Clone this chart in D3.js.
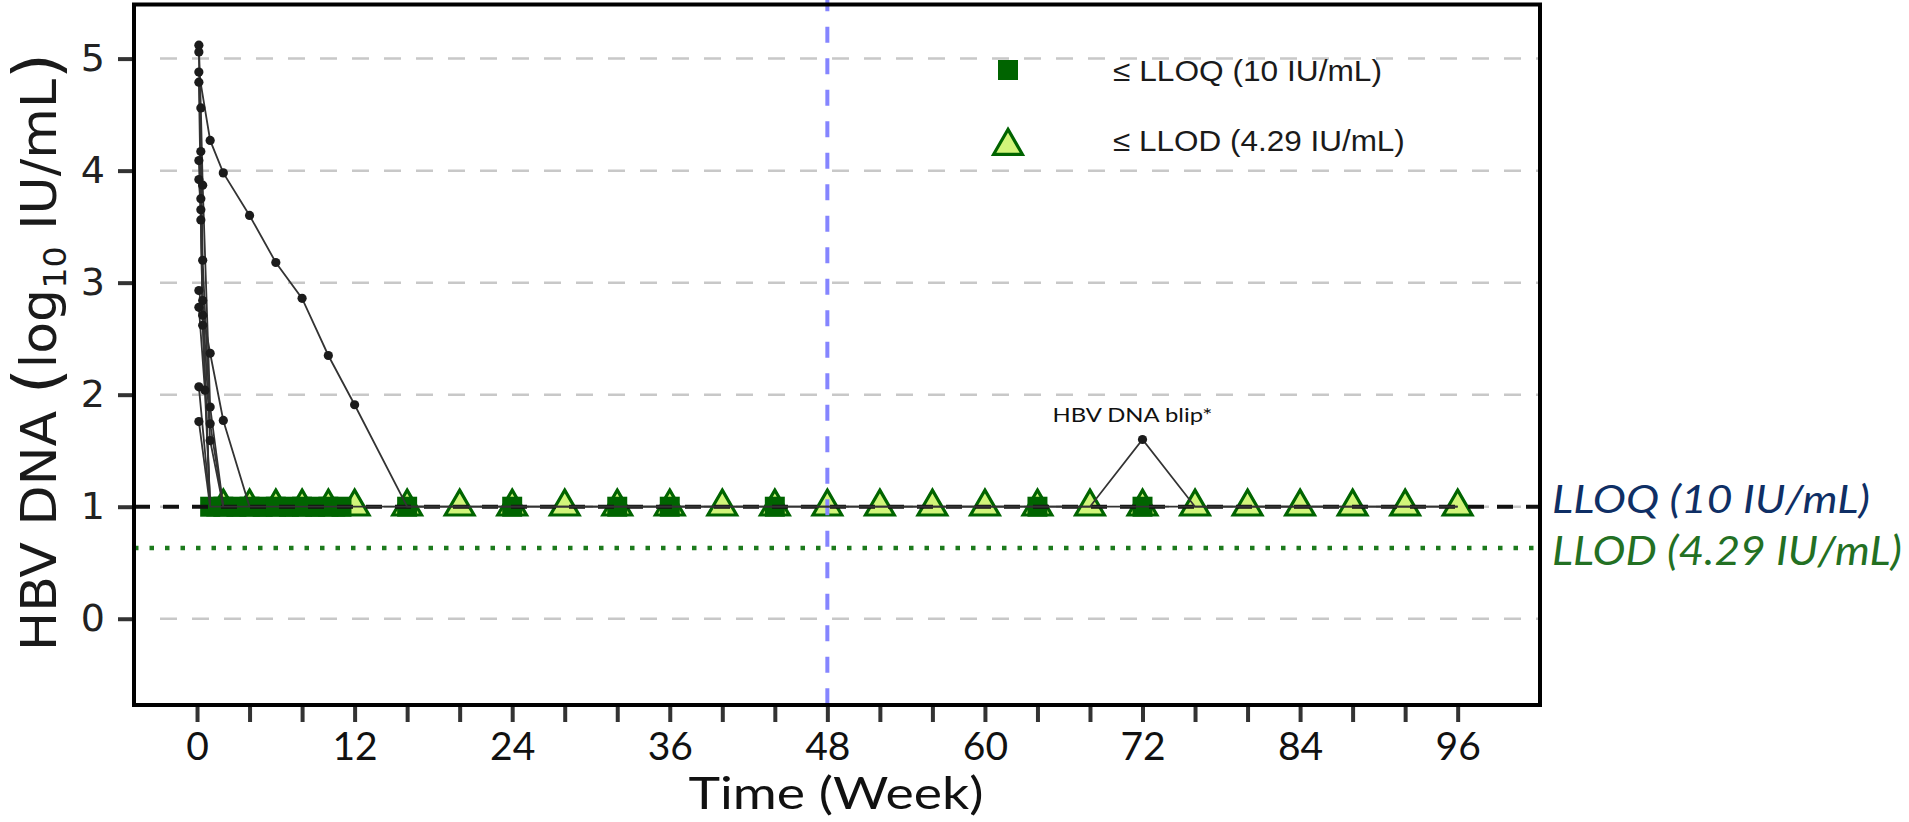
<!DOCTYPE html>
<html>
<head>
<meta charset="utf-8">
<title>HBV DNA over time</title>
<style>
  body { margin: 0; background: #fff; }
  svg { display: block; }
  .grid line { stroke: #c8c8c8; stroke-width: 2.5px; stroke-dasharray: 17,15; }
  .pt-line { fill: none; stroke: #333; stroke-width: 1.8px; }
  .axis path.domain { display: none; }
  .axis line { stroke: #333; stroke-width: 4px; }
</style>
</head>
<body>
<script src="https://d3js.org/d3.v7.min.js"></script>
<script>

var W = 1909, H = 822;

// axis values
var yTicks = [0, 1, 2, 3, 4, 5];
var xTicks = [0, 4, 8, 12, 16, 20, 24, 28, 32, 36, 40, 44, 48, 52, 56, 60, 64, 68, 72, 76, 80, 84, 88, 92, 96];
var xLabelWeeks = [0, 12, 24, 36, 48, 60, 72, 84, 96];

var LLOQ = 1;          // log10(10)
var LLOD = 0.632;      // log10(4.29)
var switchWeek = 48;

// each patient: [week, log10 HBV DNA]; values at LLOQ are plotted on the LLOQ line
var patientA = [[0.14,4.88],[1,4.27],[2,3.98],[4,3.60],[6,3.18],[8,2.86],[10,2.35],[12,1.91],[16,1],[20,1],[24,1],[28,1],[32,1],[36,1],[40,1],[44,1],[48,1],[52,1],[56,1],[60,1],[64,1],[68,1],[72,1],[76,1],[80,1],[84,1],[88,1],[92,1],[96,1]];
var patientB = [[0.14,2.93],[1,2.37],[2,1.77],[4,1]];
var patientC = [[0.14,5.12],[0.29,4.56],[0.43,3.87],[1,1.89],[2,1]];
var patientD = [[0.14,5.06],[0.29,4.17],[0.43,3.20],[1,1.74],[2,1]];
var patientE = [[0.14,4.79],[0.29,3.75],[0.43,2.84],[1,1.59],[2,1]];
var patientF = [[0.14,4.09],[0.29,3.56],[0.43,2.71],[1,1]];
var patientG = [[0.14,3.92],[0.29,3.65],[0.43,2.62],[1,1],[2,1],[4,1],[8,1],[12,1],[16,1],[24,1],[32,1],[40,1],[48,1],[56,1],[64,1],[68,1],[72,1.60],[76,1],[84,1],[96,1]];
var patientH = [[0.14,2.78],[0.6,2.04],[1,1]];
var patientI = [[0.14,2.07],[1,1]];
var patientJ = [[0.14,1.76],[1,1]];
var patients = [patientA, patientB, patientC, patientD, patientE, patientF, patientG, patientH, patientI, patientJ];

// weeks with a result <= LLOQ (square) and <= LLOD (triangle)
var lloqWeeks = [1, 2, 3, 4, 5, 6, 7, 8, 9, 10, 11, 16, 24, 32, 36, 44, 64, 72];
var llodWeeks = [2, 4, 6, 8, 10, 12, 16, 20, 24, 28, 32, 36, 40, 44, 48, 52, 56, 60, 64, 68, 72, 76, 80, 84, 88, 92, 96];

var blip = {week: 72, value: 1.60, text: "HBV DNA blip*"};

var dark = "#006400", light = "#d2f57a";

var svg = d3.select("body").append("svg").attr("width", W).attr("height", H);

var x = d3.scaleLinear().domain([-4.8, 102.27]).range([134, 1540]);
var y = d3.scaleLinear().domain([-0.77, 5.483]).range([705, 4.5]);

// stretch a text horizontally (in its own frame) to a wanted width
function fit(sel, target) {
	var w = sel.node().getComputedTextLength();
	var k = target / w;
	var t = sel.attr("transform") || "";
	sel.attr("transform", t + " scale(" + k + ",1)");
}

// grid
svg.append("g").attr("class", "grid")
	.selectAll("line").data(yTicks).enter().append("line")
	.attr("x1", x.range()[0] + 26).attr("x2", x.range()[1])
	.attr("y1", function(d) { return y(d); }).attr("y2", function(d) { return y(d); });

// LLOD dotted
svg.append("line")
	.attr("x1", x.range()[0]).attr("x2", x.range()[1])
	.attr("y1", y(LLOD)).attr("y2", y(LLOD))
	.attr("stroke", "#1c7a1c").attr("stroke-width", 4.5).attr("stroke-dasharray", "4.5,11");

// markers below limits
var tri = d3.symbol().type(d3.symbolTriangle).size(358);
var sq = d3.symbol().type(d3.symbolSquare).size(400);

svg.append("g").selectAll("path").data(llodWeeks).enter().append("path")
	.attr("d", tri)
	.attr("transform", function(d) { return "translate(" + x(d) + "," + y(LLOQ) + ")"; })
	.attr("fill", light).attr("stroke", dark).attr("stroke-width", 3.2);

svg.append("g").selectAll("path").data(lloqWeeks).enter().append("path")
	.attr("d", sq)
	.attr("transform", function(d) { return "translate(" + x(d) + "," + y(LLOQ) + ")"; })
	.attr("fill", dark);

// LLOQ dashed
svg.append("line")
	.attr("x1", x.range()[0]).attr("x2", x.range()[1])
	.attr("y1", y(LLOQ)).attr("y2", y(LLOQ))
	.attr("stroke", "#111").attr("stroke-width", 4).attr("stroke-dasharray", "16,13");

// switch week line
svg.append("line")
	.attr("x1", x(switchWeek)).attr("x2", x(switchWeek))
	.attr("y1", -4.8).attr("y2", y.range()[0])
	.attr("stroke", "#8585ff").attr("stroke-width", 4).attr("stroke-dasharray", "16,15.5");

// patient lines
var line = d3.line().x(function(d) { return x(d[0]); }).y(function(d) { return y(d[1]); });
svg.append("g").selectAll("path").data(patients).enter().append("path")
	.attr("class", "pt-line").attr("d", line);

var detect = [];
patients.forEach(function(p) { p.forEach(function(v) { if (v[1] > LLOQ) detect.push(v); }); });
svg.append("g").selectAll("circle").data(detect).enter().append("circle")
	.attr("cx", function(d) { return x(d[0]); })
	.attr("cy", function(d) { return y(d[1]); })
	.attr("r", 4.6).attr("fill", "#1b1b1b");

// blip label
svg.append("text")
	.attr("transform", "translate(" + (x(blip.week) - 10) + "," + (y(blip.value) - 17) + ")")
	.attr("text-anchor", "middle")
	.style("font-family", "Lato").style("font-size", "20px").attr("fill", "#111")
	.text(blip.text)
	.call(fit, 160);

// axes
var xAxis = d3.axisBottom(x).tickValues(xTicks).tickSize(17).tickPadding(10)
	.tickFormat(function(d) { return xLabelWeeks.indexOf(d) >= 0 ? d : ""; });
var gx = svg.append("g").attr("class", "axis").attr("transform", "translate(0," + y.range()[0] + ")").call(xAxis);
gx.selectAll("text").style("font-family", "Lato").style("font-size", "39px").attr("fill", "#111");

var yAxis = d3.axisLeft(y).tickValues(yTicks).tickSize(16).tickPadding(13).tickFormat(d3.format("d"));
var gy = svg.append("g").attr("class", "axis").attr("transform", "translate(" + x.range()[0] + ",0)").call(yAxis);
gy.selectAll("text").style("font-family", "DejaVu Sans").style("font-size", "38px").attr("fill", "#222");

// frame
svg.append("rect")
	.attr("x", x.range()[0]).attr("y", y.range()[1])
	.attr("width", x.range()[1] - x.range()[0]).attr("height", y.range()[0] - y.range()[1])
	.attr("fill", "none").attr("stroke", "#000").attr("stroke-width", 4);

// axis titles
svg.append("text")
	.attr("transform", "translate(836,809)")
	.attr("text-anchor", "middle")
	.style("font-family", "Lato").style("font-size", "44px").attr("fill", "#111")
	.text("Time (Week)")
	.call(fit, 295);

var yt = svg.append("text")
	.attr("transform", "translate(56,352) rotate(-90)")
	.attr("text-anchor", "middle")
	.style("font-family", "DejaVu Sans").style("font-size", "50px").attr("fill", "#1a1a1a");
yt.append("tspan").text("HBV DNA ");
yt.append("tspan").style("font-size", "64px").attr("dy", 3).text("(");
yt.append("tspan").attr("dy", -3).text("log");
yt.append("tspan").style("font-size", "32px").attr("dy", 10).text("10");
yt.append("tspan").attr("dy", -10).text(" IU/mL");
yt.append("tspan").style("font-size", "64px").attr("dy", 3).text(")");
yt.call(fit, 598);

// legend
var legend = [
	{label: "\u2264 LLOQ (10 IU/mL)", sym: sq, fill: dark, stroke: "none", y: 70, base: 81, w: 269},
	{label: "\u2264 LLOD (4.29 IU/mL)", sym: tri, fill: light, stroke: dark, y: 146, base: 151, w: 292}
];
legend.forEach(function(l) {
	svg.append("path").attr("d", l.sym)
		.attr("transform", "translate(1008," + l.y + ")")
		.attr("fill", l.fill).attr("stroke", l.stroke).attr("stroke-width", 3.2);
	svg.append("text")
		.attr("transform", "translate(1113," + l.base + ")")
		.style("font-family", "Liberation Sans").style("font-size", "29px").attr("fill", "#1a1a1a")
		.text(l.label)
		.call(fit, l.w);
});

// limit labels on the right
svg.append("text")
	.attr("transform", "translate(1552,513)")
	.style("font-family", "Lato").style("font-style", "italic").style("font-size", "39px")
	.attr("fill", "#0f2f65")
	.text("LLOQ (10 IU/mL)")
	.call(fit, 318);
svg.append("text")
	.attr("transform", "translate(1552,565)")
	.style("font-family", "Lato").style("font-style", "italic").style("font-size", "40px")
	.attr("fill", "#237023")
	.text("LLOD (4.29 IU/mL)")
	.call(fit, 350);

</script>
</body>
</html>
